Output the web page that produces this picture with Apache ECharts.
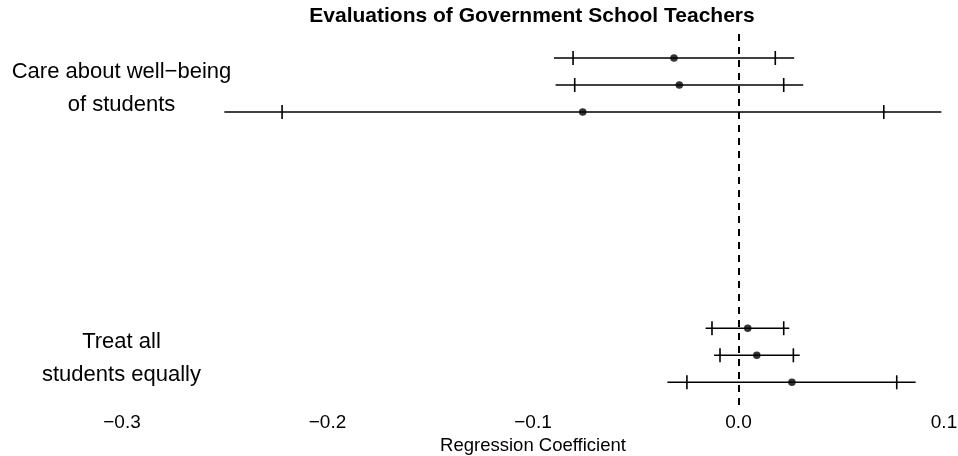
<!DOCTYPE html>
<html>
<head>
<meta charset="utf-8">
<script src="https://cdn.jsdelivr.net/npm/echarts@6/dist/echarts.min.js"></script>
<style>
  html, body { margin: 0; padding: 0; background: #fff; }
  #chart { width: 958px; height: 456px; }
</style>
</head>
<body>
<div id="chart"></div>
<script>
// ---- data ----
const titleText = "Evaluations of Government School Teachers";
const axisTitle = "Regression Coefficient";
const categories = ["Care about well−being of students", "Treat all students equally"];
const categoryLines = [["Care about well−being", "of students"], ["Treat all", "students equally"]];
// three estimates per category (top to bottom)
const estimates = [[-0.0314, -0.0288, -0.0758], [0.0045, 0.0089, 0.0260]];
const lower95 = [[-0.0898, -0.0890, -0.2502], [-0.0160, -0.0119, -0.0346]];
const upper95 = [[0.0271, 0.0315, 0.0987], [0.0247, 0.0298, 0.0862]];
const lower90 = [[-0.0805, -0.0797, -0.2221], [-0.0129, -0.0090, -0.0251]];
const upper90 = [[0.0179, 0.0220, 0.0707], [0.0220, 0.0267, 0.0770]];
const xTicks = [-0.3, -0.2, -0.1, 0.0, 0.1];

// ---- build series data ----
const FONT = "'Liberation Sans', Arial, Helvetica, sans-serif";
const rowsPerGroup = 3;
const groupStride = 10;
const topRow = 13;
function rowY(g, m) { return topRow - (g * groupStride + m); }

const barData = [];
const pointData = [];
categories.forEach((c, g) => {
  for (let m = 0; m < rowsPerGroup; m++) {
    const y = rowY(g, m);
    barData.push([lower95[g][m], upper95[g][m], lower90[g][m], upper90[g][m], y]);
    pointData.push([estimates[g][m], y]);
  }
});

const chart = echarts.init(document.getElementById('chart'), null, { renderer: 'canvas' });

const option = {
  backgroundColor: '#ffffff',
  animation: false,
  textStyle: { fontFamily: FONT },
  title: {
    text: titleText,
    left: 532,
    top: 6,
    padding: 0,
    textAlign: 'center',
    textStyle: { fontFamily: FONT, fontSize: 21, fontWeight: 'bold', color: '#000' }
  },
  grid: { left: 122, right: 14, top: 34, bottom: 51, containLabel: false, outerBoundsMode: 'none' },
  xAxis: {
    type: 'value',
    min: xTicks[0],
    max: xTicks[xTicks.length - 1],
    interval: 0.1,
    axisLine: { show: false },
    axisTick: { show: false },
    splitLine: { show: false },
    axisLabel: {
      fontFamily: FONT, fontSize: 19, color: '#000', margin: 8,
      showMinLabel: true, showMaxLabel: true,
      formatter: v => (v < -1e-9 ? '−' : '') + Math.abs(v).toFixed(1)
    },
    name: axisTitle,
    nameLocation: 'middle',
    nameGap: 25,
    nameTextStyle: { fontFamily: FONT, fontSize: 18.5, color: '#000' }
  },
  yAxis: {
    type: 'value',
    min: 0.16,
    max: 13.888,
    show: false,
    splitLine: { show: false }
  },
  series: [
    {
      type: 'custom',
      name: 'intervals',
      data: barData,
      encode: { x: [0, 1, 2, 3], y: 4 },
      renderItem: function (params, api) {
        const y = api.value(4);
        const a = api.coord([api.value(0), y]);
        const b = api.coord([api.value(1), y]);
        const t1 = api.coord([api.value(2), y]);
        const t2 = api.coord([api.value(3), y]);
        const h = 7;
        const st = { stroke: '#000', lineWidth: 1.6 };
        return {
          type: 'group',
          children: [
            { type: 'line', shape: { x1: a[0], y1: a[1], x2: b[0], y2: b[1] }, style: st },
            { type: 'line', shape: { x1: t1[0], y1: t1[1] - h, x2: t1[0], y2: t1[1] + h }, style: st },
            { type: 'line', shape: { x1: t2[0], y1: t2[1] - h, x2: t2[0], y2: t2[1] + h }, style: st }
          ]
        };
      },
      markLine: {
        silent: true,
        symbol: ['none', 'none'],
        label: { show: false },
        lineStyle: { color: '#000', width: 2, type: [7, 6] },
        data: [{ xAxis: 0 }]
      },
      z: 2
    },
    {
      type: 'scatter',
      name: 'estimates',
      data: pointData,
      symbol: 'circle',
      symbolSize: 7.5,
      itemStyle: { color: '#000' },
      z: 3
    }
  ]
};

chart.setOption(option);

// category labels, centred on each group's middle row
const graphics = categoryLines.map((lines, g) => {
  const yc = chart.convertToPixel({ yAxisIndex: 0 }, rowY(g, 1));
  return {
    type: 'text',
    x: 121.5,
    y: yc + 3.5,
    style: {
      text: lines.join('\n'),
      font: '22px ' + FONT,
      fill: '#000',
      align: 'center',
      verticalAlign: 'middle',
      lineHeight: 33
    }
  };
});
chart.setOption({ graphic: graphics });
</script>
</body>
</html>
